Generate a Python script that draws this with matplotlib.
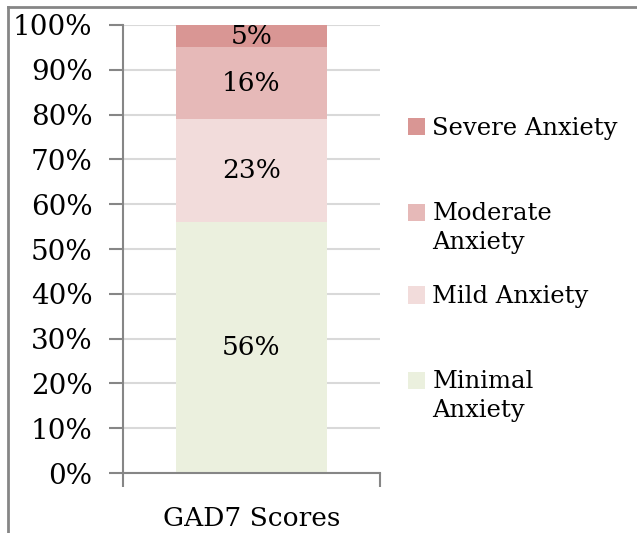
import matplotlib.pyplot as plt
from matplotlib.patches import Patch, Rectangle
from matplotlib.lines import Line2D
from matplotlib.legend_handler import HandlerPatch
from matplotlib.ticker import PercentFormatter

category = "GAD7 Scores"
levels = ["Minimal\nAnxiety", "Mild Anxiety", "Moderate\nAnxiety", "Severe Anxiety"]
shares = [56, 23, 16, 5]
colors = ["#EBF0DE", "#F2DCDB", "#E6B9B8", "#D99694"]
y_ticks = list(range(0, 101, 10))

plt.rcParams['font.family'] = ['DejaVu Serif']

fig = plt.figure(figsize=(6.37, 5.33), dpi=100)
W, H = 637, 533
# axes box in pixels: x 123..380, y 25..473
ax = fig.add_axes([123 / W, 1 - 473 / H, (380 - 123) / W, (473 - 25) / H])

bottom = 0
for val, col in zip(shares, colors):
    ax.bar(0, val, width=0.59, bottom=bottom, color=col, zorder=2)
    ax.text(0, bottom + val / 2, f"{val}%", ha='center', va='center',
            fontsize=19, color='black', zorder=3)
    bottom += val

ax.set_xlim(-0.5, 0.5)
ax.set_ylim(0, 100)
ax.set_yticks(y_ticks)
ax.yaxis.set_major_formatter(PercentFormatter(decimals=0))
ax.tick_params(axis='y', labelsize=20, length=10, width=1.5, color='#868686', pad=12)
ax.set_xticks([-0.5, 0.5])
ax.set_xticklabels(['', ''])
ax.tick_params(axis='x', length=10, width=1.5, color='#868686', direction='out')
ax.set_xlabel(category, fontsize=19, labelpad=10)
ax.grid(axis='y', color='#D9D9D9', linewidth=1.5, zorder=0)
for s in ['top', 'right']:
    ax.spines[s].set_visible(False)
for s in ['left', 'bottom']:
    ax.spines[s].set_color('#868686')
    ax.spines[s].set_linewidth(1.5)


# excel puts the swatch next to the first line of a wrapped label
def swatch_maker(shift):
    def make(legend, orig_handle, xdescent, ydescent, width, height, fontsize):
        return Rectangle((-xdescent, -ydescent + shift), width, height)
    return make


# one legend per entry, placed like the original
legend_y = [396, 297, 228, 129]
for lab, col, yp in zip(levels, colors, legend_y):
    shift = 11.2 if "\n" in lab else 0
    lg = fig.legend(handles=[Patch(facecolor=col, edgecolor='none')], labels=[lab],
                    loc='center left', bbox_to_anchor=(408 / W, 1 - yp / H),
                    frameon=False, fontsize=17.5, handlelength=0.7, handleheight=0.7,
                    handletextpad=0.3, borderpad=0, borderaxespad=0,
                    handler_map={Patch: HandlerPatch(patch_func=swatch_maker(shift))})
    for t in lg.get_texts():
        t.set_linespacing(1.3)

# outer chart frame (top and left edges visible)
fig.add_artist(Line2D([8 / W, 8 / W], [0, 1 - 6.5 / H], color='#868686', linewidth=2))
fig.add_artist(Line2D([8 / W, 1], [1 - 6.5 / H, 1 - 6.5 / H], color='#868686', linewidth=2))

fig.savefig('out.png', dpi=100)
